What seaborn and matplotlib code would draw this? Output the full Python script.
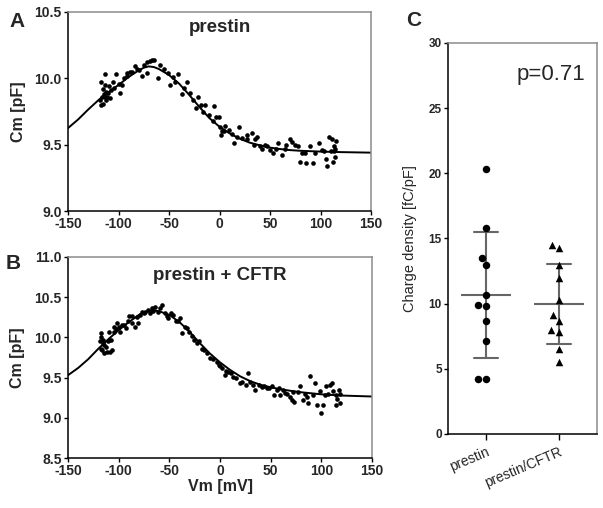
import numpy as np
import pandas as pd
import seaborn as sns
import matplotlib.pyplot as plt

# --- panel A: prestin, Cm vs Vm (points and fit) ---
a_v = [-118, -117, -117, -116, -115, -115, -114, -113, -113, -113, -112, -112, -111, -110,
       -109, -108, -107, -105, -104, -102, -100, -99, -97, -95, -92, -92, -89, -87, -84, -82,
       -80, -77, -75, -72, -72, -69, -67, -65, -61, -59, -55, -51, -49, -46, -44, -41, -37,
       -35, -32, -29, -26, -23, -21, -18, -16, -14, -10, -6, -5, -3, -1, 0, 1, 2, 4, 5, 9,
       12, 14, 17, 19, 22, 27, 27, 32, 34, 35, 37, 40, 42, 45, 47, 50, 53, 56, 58, 62, 65,
       66, 70, 72, 75, 78, 80, 82, 85, 86, 90, 93, 95, 98, 101, 103, 105, 106, 108, 110,
       111, 112, 113, 113, 114, 115, 114]
a_cm = [9.84, 9.80, 9.97, 9.86, 9.92, 9.81, 9.88, 10.03, 9.86, 9.95, 9.90, 9.84, 9.86, 9.89,
        9.94, 9.85, 9.91, 9.97, 9.93, 10.03, 9.96, 9.89, 9.95, 10.00, 10.04, 10.02, 10.05,
        10.05, 10.09, 10.07, 10.06, 10.02, 10.10, 10.04, 10.12, 10.13, 10.14, 10.14, 10.00,
        10.10, 10.07, 10.04, 9.95, 10.01, 9.97, 10.03, 9.88, 9.93, 9.97, 9.89, 9.84, 9.78,
        9.86, 9.80, 9.75, 9.80, 9.72, 9.68, 9.79, 9.71, 9.71, 9.63, 9.57, 9.60, 9.60, 9.64,
        9.61, 9.58, 9.51, 9.56, 9.63, 9.55, 9.54, 9.57, 9.59, 9.50, 9.54, 9.56, 9.49, 9.47,
        9.50, 9.49, 9.46, 9.44, 9.47, 9.51, 9.42, 9.47, 9.50, 9.54, 9.52, 9.50, 9.49, 9.37,
        9.44, 9.44, 9.36, 9.49, 9.36, 9.44, 9.51, 9.46, 9.45, 9.39, 9.34, 9.56, 9.45, 9.54,
        9.37, 9.45, 9.49, 9.41, 9.53, 9.47]
a_fit_v = [-150, -140, -130, -120, -110, -100, -90, -80, -75, -70, -65, -60, -50, -40, -30,
           -20, -10, 0, 10, 20, 30, 40, 50, 60, 70, 80, 100, 120, 150]
a_fit_cm = [9.625, 9.69, 9.765, 9.835, 9.895, 9.95, 10.01, 10.06, 10.08, 10.09, 10.085,
            10.07, 10.025, 9.96, 9.875, 9.785, 9.70, 9.635, 9.585, 9.545, 9.515, 9.495,
            9.478, 9.467, 9.459, 9.454, 9.448, 9.444, 9.44]

# --- panel B: prestin + CFTR ---
b_v = [-118, -117, -117, -117, -116, -115, -115, -114, -114, -113, -112, -111, -110, -110,
       -109, -108, -107, -105, -105, -103, -102, -100, -99, -97, -95, -93, -91, -90, -87, -87,
       -84, -82, -81, -79, -77, -75, -74, -71, -69, -67, -66, -64, -61, -59, -57, -54, -52,
       -51, -48, -46, -43, -41, -39, -38, -35, -33, -31, -28, -26, -23, -21, -18, -16, -13,
       -10, -7, -3, -1, 0, 2, 5, 6, 8, 11, 13, 16, 20, 22, 26, 28, 30, 33, 35, 38, 41, 43,
       46, 48, 51, 53, 56, 58, 59, 62, 64, 66, 69, 71, 72, 73, 77, 79, 82, 84, 86, 87, 89,
       92, 94, 96, 99, 100, 102, 104, 105, 107, 109, 111, 112, 114, 114, 115, 117, 118, 118]
b_cm = [9.95, 10.05, 10.01, 9.86, 9.84, 9.97, 9.93, 9.90, 9.80, 9.88, 9.82, 9.95, 10.07,
        9.97, 9.82, 9.97, 9.84, 10.13, 10.07, 10.10, 10.18, 10.13, 10.07, 10.15, 10.15, 10.12,
        10.20, 10.26, 10.26, 10.18, 10.13, 10.25, 10.18, 10.28, 10.32, 10.30, 10.31, 10.34,
        10.30, 10.36, 10.33, 10.38, 10.32, 10.36, 10.40, 10.30, 10.27, 10.24, 10.30, 10.28,
        10.20, 10.21, 10.24, 10.05, 10.13, 10.12, 10.07, 10.02, 9.97, 9.93, 9.95, 9.86, 9.84,
        9.80, 9.74, 9.73, 9.70, 9.66, 9.64, 9.62, 9.53, 9.58, 9.57, 9.56, 9.51, 9.50, 9.43,
        9.45, 9.41, 9.56, 9.44, 9.41, 9.35, 9.41, 9.38, 9.39, 9.37, 9.37, 9.39, 9.28, 9.35,
        9.37, 9.28, 9.35, 9.31, 9.30, 9.26, 9.22, 9.32, 9.20, 9.32, 9.39, 9.22, 9.30, 9.26,
        9.18, 9.52, 9.28, 9.43, 9.16, 9.33, 9.06, 9.16, 9.28, 9.39, 9.30, 9.41, 9.43, 9.33,
        9.28, 9.16, 9.24, 9.35, 9.18, 9.30]
b_fit_v = [-150, -140, -130, -120, -110, -100, -90, -80, -75, -70, -65, -60, -50, -40, -30,
           -20, -10, 0, 10, 20, 30, 40, 50, 60, 70, 80, 100, 120, 150]
b_fit_cm = [9.53, 9.62, 9.73, 9.86, 9.98, 10.09, 10.19, 10.28, 10.31, 10.33, 10.335, 10.325,
            10.28, 10.19, 10.07, 9.93, 9.80, 9.69, 9.595, 9.515, 9.455, 9.41, 9.38, 9.355,
            9.335, 9.318, 9.292, 9.277, 9.265]

# --- panel C: charge density ---
c_groups = ['prestin', 'prestin/CFTR']
prestin_density = [20.3, 15.8, 13.5, 13.0, 10.7, 9.9, 9.8, 8.7, 7.1, 4.2, 4.2]
cftr_density = [14.5, 14.3, 13.0, 12.0, 10.3, 9.1, 8.7, 7.85, 8.0, 6.5, 5.55]

sns.set_style("ticks")
plt.rcParams['font.family'] = ['Liberation Sans', 'DejaVu Sans']

fig = plt.figure(figsize=(6.03, 5.08), dpi=100)
ax_a = fig.add_axes([0.1128, 0.5846, 0.5025, 0.3918])
ax_b = fig.add_axes([0.1128, 0.0984, 0.5041, 0.3957])
ax_c = fig.add_axes([0.743, 0.1457, 0.2471, 0.7697])


def style_frame(ax):
    for side in ['left', 'bottom']:
        ax.spines[side].set_color('black')
        ax.spines[side].set_linewidth(1.1)
    for side in ['top', 'right']:
        ax.spines[side].set_color('#8c8c8c')
        ax.spines[side].set_linewidth(1.1)
    ax.tick_params(direction='out', length=3, width=1, color='black', pad=1.5)


def cm_panel(ax, v, cm, fit_v, fit_cm, yticks, title, title_y):
    sns.lineplot(x=fit_v, y=fit_cm, ax=ax, color='black', linewidth=1.4)
    sns.scatterplot(x=v, y=cm, ax=ax, color='black', s=11, linewidth=0)
    ax.set_xlim(-150, 150)
    ax.set_ylim(yticks[0], yticks[-1])
    xt = [-150, -100, -50, 0, 50, 100, 150]
    ax.set_xticks(xt, labels=[str(t) for t in xt], fontweight='bold', fontsize=10)
    ax.set_yticks(yticks, labels=[f"{t:.1f}" for t in yticks], fontweight='bold', fontsize=10)
    ax.set_ylabel('Cm [pF]', fontweight='bold', fontsize=11.5)
    ax.yaxis.set_label_coords(-0.14, 0.5)
    ax.set_xlabel('')
    ax.text(0.5, title_y, title, transform=ax.transAxes, ha='center', va='baseline',
            fontweight='bold', fontsize=13.5)
    style_frame(ax)


cm_panel(ax_a, a_v, a_cm, a_fit_v, a_fit_cm, [9.0, 9.5, 10.0, 10.5], 'prestin', 0.897)
cm_panel(ax_b, b_v, b_cm, b_fit_v, b_fit_cm, [8.5, 9.0, 9.5, 10.0, 10.5, 11.0],
         'prestin + CFTR', 0.886)
ax_b.set_xlabel('Vm [mV]', fontweight='bold', fontsize=11.5)
ax_b.xaxis.set_label_coords(0.5, -0.105)

df = pd.DataFrame({
    'group': [c_groups[0]] * len(prestin_density) + [c_groups[1]] * len(cftr_density),
    'density': prestin_density + cftr_density,
})

sns.pointplot(data=df, x='group', y='density', order=c_groups, errorbar='sd', capsize=0.34,
              color='#666666', marker='_', markersize=36, markeredgewidth=1.5,
              linestyle='none', err_kws={'linewidth': 1.5}, ax=ax_c, zorder=1)
sns.swarmplot(data=df[df.group == c_groups[0]], x='group', y='density', order=c_groups,
              marker='o', size=5.4, color='black', ax=ax_c, zorder=3)
sns.swarmplot(data=df[df.group == c_groups[1]], x='group', y='density', order=c_groups,
              marker='^', size=5.4, color='black', ax=ax_c, zorder=3)
ax_c.set_xlim(-0.52, 1.52)
ax_c.set_ylim(0, 30)
ax_c.set_yticks(range(0, 31, 5), labels=[str(t) for t in range(0, 31, 5)],
                fontweight='bold', fontsize=8.5)
ax_c.set_xticks([0, 1], labels=c_groups, rotation=23, ha='right', rotation_mode='anchor',
                fontsize=10)
ax_c.set_xlabel('')
ax_c.set_ylabel('Charge density [fC/pF]', fontsize=10.5)
ax_c.yaxis.set_label_coords(-0.205, 0.5)
ax_c.text(0.69, 0.905, 'p=0.71', transform=ax_c.transAxes, ha='center', va='baseline',
          fontsize=16)
style_frame(ax_c)
ax_c.tick_params(axis='x', length=4, pad=4)

fig.text(17.5 / 603, 1 - 21.5 / 508, 'A', ha='center', va='center', fontweight='bold', fontsize=15)
fig.text(13 / 603, 1 - 263.5 / 508, 'B', ha='center', va='center', fontweight='bold', fontsize=15)
fig.text(413.5 / 603, 1 - 20.7 / 508, 'C', ha='center', va='center', fontweight='bold', fontsize=15)

fig.savefig('out.png', dpi=100)
